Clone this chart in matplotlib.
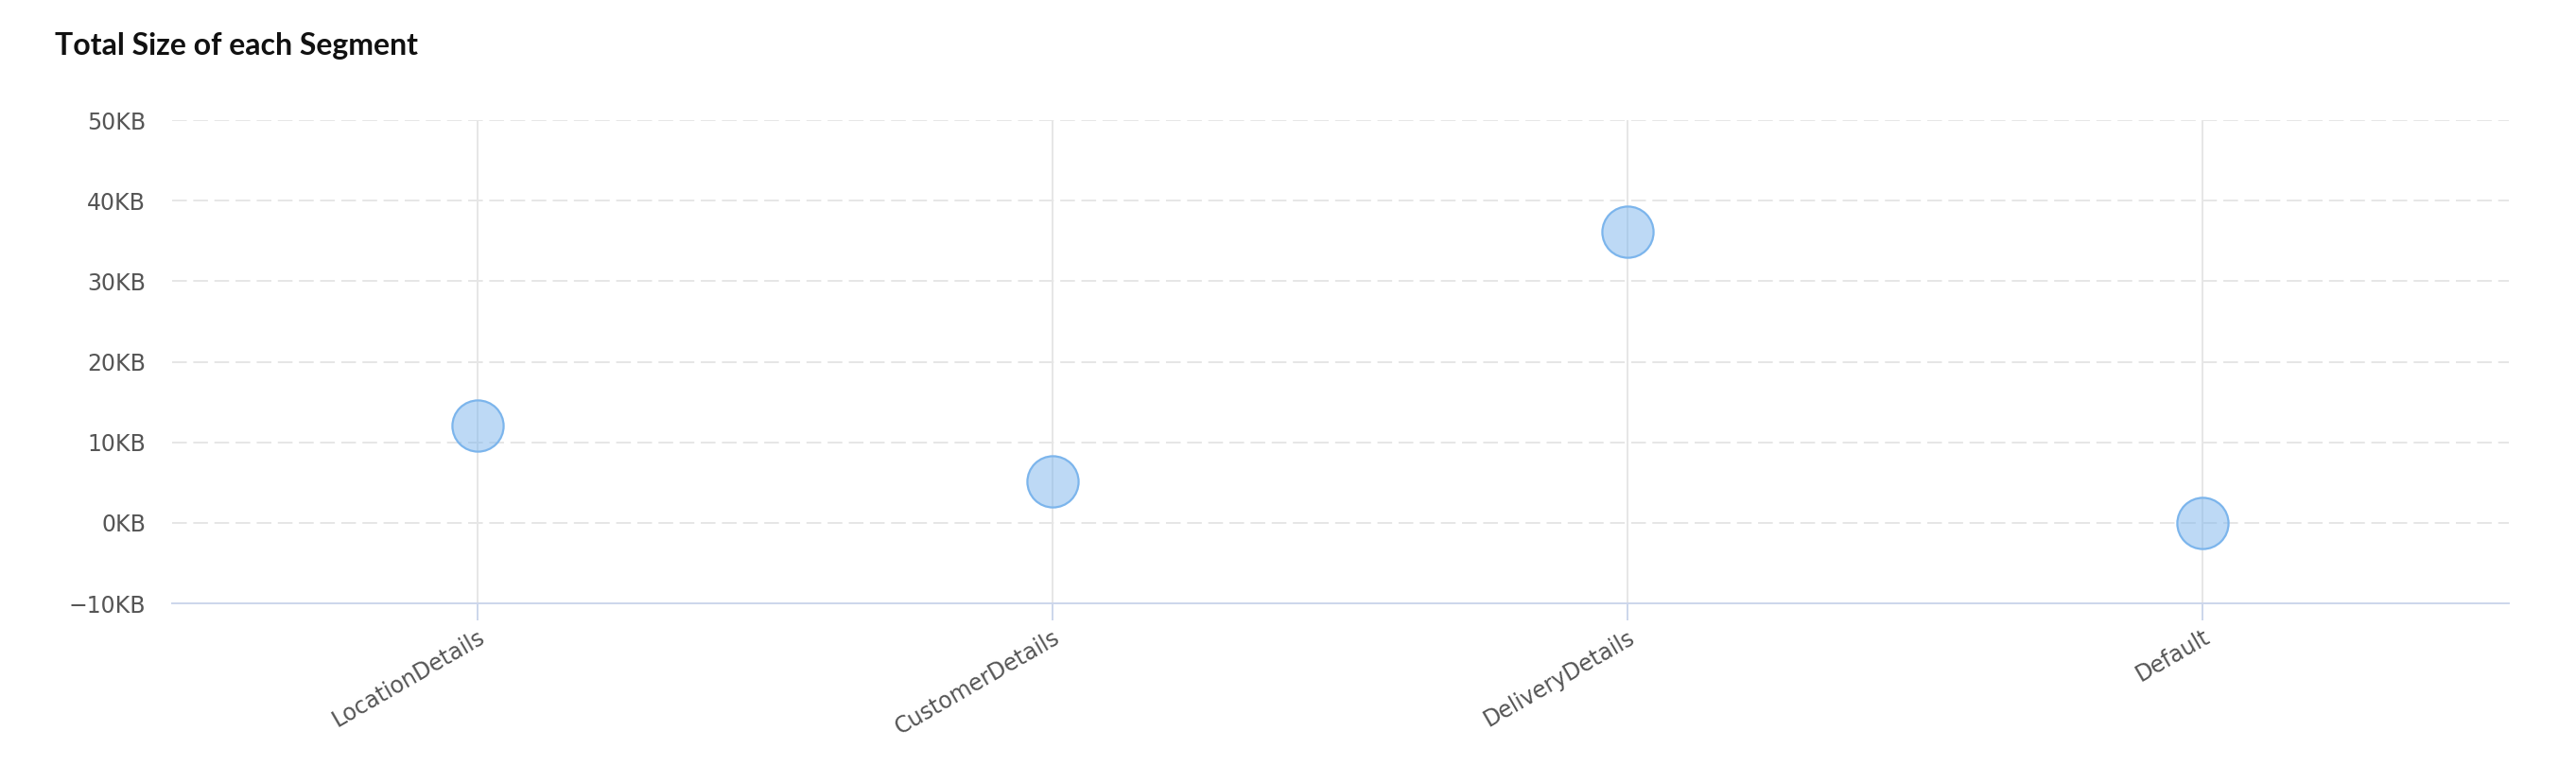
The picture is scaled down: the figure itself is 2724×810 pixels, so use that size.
import matplotlib.pyplot as plt
from matplotlib.ticker import FuncFormatter

# data
segments = ['LocationDetails', 'CustomerDetails', 'DeliveryDetails', 'Default']
size_kb = [12.1, 5.2, 36.1, 0.0]
y_ticks = [-10, 0, 10, 20, 30, 40, 50]

fig = plt.figure(figsize=(27.24, 8.10), dpi=100)
ax = fig.add_axes([0.0668, 0.2123, 0.9072, 0.6309])

x = list(range(len(segments)))
ax.plot(x, size_kb, linestyle='none', marker='o', markersize=39,
        markerfacecolor=(124/255, 181/255, 236/255, 0.5),
        markeredgecolor='#7cb5ec', markeredgewidth=1.6, zorder=3)

ax.set_xlim(-0.531, 3.533)
ax.set_ylim(-10, 50)
ax.set_xticks(x)
ax.set_xticklabels(segments, rotation=30, ha='right', va='top',
                   rotation_mode='anchor')
ax.set_yticks(y_ticks)
ax.yaxis.set_major_formatter(FuncFormatter(lambda v, p: f'{int(v)}KB'.replace('-', '\u2212')))

# grid lines
for v in y_ticks[1:]:
    ax.axhline(v, color='#e6e6e6', linewidth=1.4, dashes=(8, 3.5), zorder=1)
ax.xaxis.grid(True, color='#e6e6e6', linewidth=1.4, zorder=1)
ax.set_axisbelow(True)

for s in ['top', 'right', 'left']:
    ax.spines[s].set_visible(False)
ax.spines['bottom'].set_color('#ccd6eb')
ax.spines['bottom'].set_linewidth(1.4)

ax.tick_params(axis='y', length=0, pad=20, labelsize=17, labelcolor='#555555')
ax.tick_params(axis='x', length=13, width=1.4, color='#ccd6eb', pad=4,
               labelsize=17, labelcolor='#555555')

fig.text(58/2724, 1 - 58/810, 'Total Size of each Segment', fontsize=23,
         fontweight='bold', family='Lato', color='#111111', ha='left', va='baseline')

fig.savefig('out.png', dpi=100, facecolor='white')
